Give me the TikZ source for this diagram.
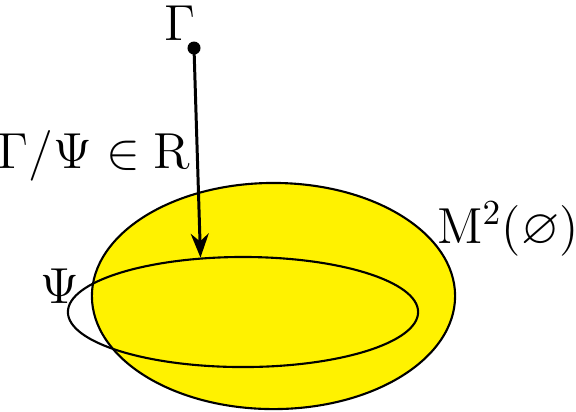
\documentclass[tikz,border=0pt]{standalone}
\usepackage{amssymb}
\usepackage{tikz}
\usetikzlibrary{arrows.meta, shapes.geometric}

\begin{document}
\begin{tikzpicture}[x=0.01cm, y=-0.01cm, >=Stealth,
  font=\fontsize{14}{16}\selectfont,
  set/.style  = {draw, ellipse, line width=0.6pt, inner sep=0pt},
  dot/.style  = {circle, fill, inner sep=0pt, minimum size=0.13cm},
  lbl/.style  = {anchor=base, inner sep=0pt}
]
  \useasboundingbox (0,0) rectangle (576,411);

  %% the two sets
  \node[set, fill=yellow, minimum width=3.63cm, minimum height=2.26cm] (M) at (273.5,296) {};
  \node[set, minimum width=3.5cm, minimum height=1.1cm] (Psi) at (243,312) {};

  %% the point and its arrow
  \node[dot] (G) at (194,48) {};
  \draw[->, line width=0.85pt, shorten <=-2pt] (G) -- (Psi.128);

  %% labels
  \node[lbl] (Glbl)   at (180,40)  {$\Gamma$};
  \node[lbl] (rel)    at (94,168)  {$\Gamma/\Psi \in \mathrm{R}$};
  \node[lbl] (Psilbl) at (60,303)  {$\Psi$};
  \node[lbl] (Mlbl)   at (508,243) {$\mathrm{M}^2(\varnothing)$};
\end{tikzpicture}
\end{document}
